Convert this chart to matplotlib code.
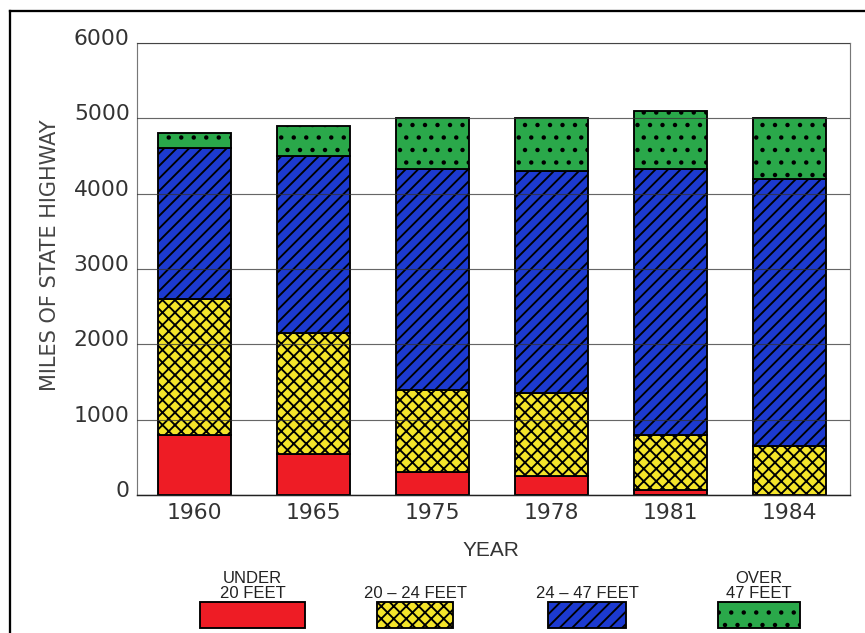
import matplotlib
matplotlib.use("Agg")
import matplotlib.pyplot as plt
import matplotlib.transforms as mtransforms
from matplotlib.patches import Rectangle
from matplotlib.lines import Line2D
import numpy as np

# data (miles of state highway by pavement width)
years = ["1960", "1965", "1975", "1978", "1981", "1984"]
under_20 = [800, 550, 300, 250, 70, 0]
ft_20_24 = [1800, 1600, 1100, 1100, 730, 650]
ft_24_47 = [2000, 2350, 2930, 2950, 3530, 3550]
over_47 = [200, 400, 670, 700, 770, 800]

series = [under_20, ft_20_24, ft_24_47, over_47]
legend_labels = ["UNDER\n20 FEET", "20 \u2013 24 FEET", "24 \u2013 47 FEET", "OVER\n47 FEET"]
colors = ["#ee1c25", "#f4e42a", "#1c3ad0", "#2aa84a"]
hatches = [None, "xx", "//", "."]

plt.rcParams["hatch.linewidth"] = 1.8
plt.rcParams["font.family"] = ["DejaVu Sans"]

DPI = 75
fig = plt.figure(figsize=(865 / DPI, 633 / DPI), dpi=DPI)
ax = fig.add_axes([137 / 865, 1 - 495 / 633, (850 - 137) / 865, (495 - 43) / 633])

x = np.arange(len(years))
bottom = np.zeros(len(years))
for vals, c, h in zip(series, colors, hatches):
    ax.bar(x, vals, width=0.615, bottom=bottom, color=c, hatch=h,
           edgecolor="black", linewidth=1.8, zorder=2)
    bottom += np.array(vals)

ax.set_ylim(0, 6000)
ax.set_xlim(-0.48, 5.51)
ax.set_yticks(range(0, 6001, 1000))
ax.set_xticks(x)
ax.set_xticklabels(years)
ax.tick_params(length=0, labelsize=21, colors="#333333", pad=8)
ax.tick_params(axis="y", pad=7)
for lab in ax.get_yticklabels():
    lab.set_transform(lab.get_transform() + mtransforms.ScaledTranslation(0, 6 / DPI, fig.dpi_scale_trans))

ax.set_axisbelow(False)
ax.grid(axis="y", color="#333333", linewidth=1.1, alpha=0.75, zorder=3)
for side in ["left", "right", "top"]:
    ax.spines[side].set_color("#777777")
    ax.spines[side].set_linewidth(1.1)
ax.spines["bottom"].set_color("#222222")
ax.spines["bottom"].set_linewidth(1.4)

ax.set_ylabel("MILES OF STATE HIGHWAY", fontsize=20, color="#444444")
ax.yaxis.set_label_coords(-0.108, 0.53)
fig.text(491 / 865, 1 - 551 / 633, "YEAR", fontsize=20, color="#333333",
         ha="center", va="center", family=["Liberation Sans Narrow", "Liberation Sans"])

# legend drawn as boxes with labels above them
box_x = [200, 377, 548, 718]
box_w = [105, 76, 78, 82]
for bx, bw, c, h, lab in zip(box_x, box_w, colors, hatches, legend_labels):
    r = Rectangle((bx / 865, 1 - 628 / 633), bw / 865, 26 / 633, transform=fig.transFigure,
                  facecolor=c, hatch=h, edgecolor="black", linewidth=1.8)
    fig.add_artist(r)
    fig.text((bx + bw / 2) / 865, 1 - 601 / 633, lab, ha="center", va="bottom",
             fontsize=16, color="#222222", linespacing=1.0,
             family=["Liberation Sans Narrow", "Liberation Sans"])

# page frame from the scan
fig.add_artist(Line2D([10 / 865, 1.0], [1 - 11 / 633] * 2, transform=fig.transFigure,
                      color="black", linewidth=2.2))
fig.add_artist(Line2D([10 / 865] * 2, [0, 1 - 11 / 633], transform=fig.transFigure,
                      color="black", linewidth=2.2))

fig.savefig("out.png", dpi=DPI)
